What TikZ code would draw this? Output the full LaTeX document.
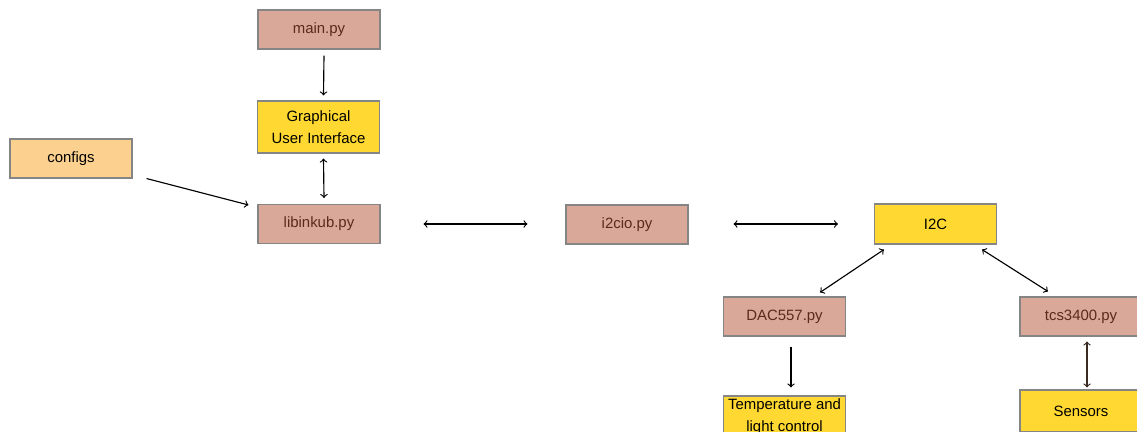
\documentclass[tikz,border=0pt]{standalone}
\usepackage{fontspec}
\setmainfont{Liberation Sans}
\usepackage{tikz}
\usetikzlibrary{arrows}

\definecolor{pyfill}{HTML}{D9A899}
\definecolor{pytext}{HTML}{5C2A1C}
\definecolor{hwfill}{HTML}{FFD931}
\definecolor{cfgfill}{HTML}{FCD190}
\definecolor{boxline}{HTML}{858585}
\definecolor{darklink}{HTML}{3A2A22}

\tikzset{
  box/.style={draw=boxline, line width=0.6pt, minimum width=2.44cm,
    minimum height=0.78cm, inner sep=1pt, align=center,
    font=\fontsize{8.5}{12.5}\selectfont},
  pybox/.style={box, fill=pyfill, text=pytext},
  hwbox/.style={box, fill=hwfill, text=black},
  cfgbox/.style={box, fill=cfgfill, text=black},
  link/.style={line width=0.65pt},
}

\begin{document}
\begin{tikzpicture}[x=0.02cm, y=-0.02cm, >=to]
  \useasboundingbox (0,0) rectangle (1137,432);

  % software side
  \node [pybox] (main) at (319,29.5) {main.py};
  \node [hwbox, minimum height=1.04cm] (gui) at (318.5,127) {Graphical\\User Interface};
  \node [cfgbox] (cfg) at (71,158.5) {configs};
  \node [pybox] (lib) at (319,224) {libinkub.py};
  \node [pybox] (i2cio) at (627,224.5) {i2cio.py};

  % hardware side
  \node [hwbox, minimum height=0.8cm] (i2c) at (935.5,224) {I2C};
  \node [pybox] (dac) at (784.5,316.5) {DAC557.py};
  \node [pybox] (tcs) at (1081,316.5) {tcs3400.py};
  \node [hwbox, minimum height=0.84cm] (temp) at (784.5,417) {Temperature and\\light control};
  \node [hwbox, minimum height=0.84cm] (sens) at (1081,411) {Sensors};

  \draw [link, ->] ([shift={(5,6)}]main.south) -- ([shift={(5,-5)}]gui.north);
  \draw [link, <->] ([shift={(5,5)}]gui.south) -- ([shift={(5,-6)}]lib.north);
  \draw [link, ->] ([shift={(14,0)}]cfg.south east) -- ([shift={(-9,1)}]lib.north west);
  \draw [link, <->] ([shift={(43,0)}]lib.east) -- ([shift={(-38,-0.5)}]i2cio.west);
  \draw [link, <->] ([shift={(45,-0.5)}]i2cio.east) -- ([shift={(-36,0)}]i2c.west);
  \draw [link, <->] ([shift={(10,5)}]i2c.south west) -- ([shift={(35.5,-4)}]dac.north);
  \draw [link, <->] ([shift={(-15,5)}]i2c.south east) -- ([shift={(-33,-5)}]tcs.north);
  \draw [link, ->] ([shift={(6.5,10)}]dac.south) -- ([shift={(6.5,-8)}]temp.north);
  \draw [link, <->, darklink] ([shift={(6,5)}]tcs.south) -- ([shift={(6,-2)}]sens.north);
\end{tikzpicture}
\end{document}
